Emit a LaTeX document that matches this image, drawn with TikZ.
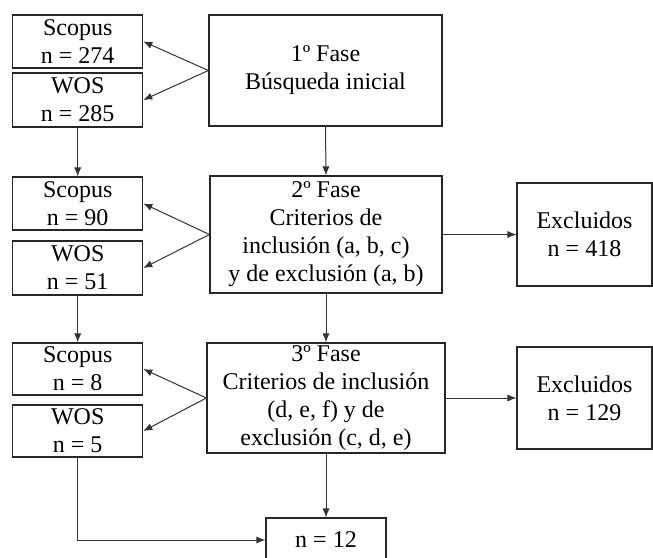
\documentclass[tikz,border=0pt]{standalone}
\usepackage{fontspec}
\setmainfont{Liberation Serif}
\usetikzlibrary{arrows.meta}
\begin{document}
\begin{tikzpicture}[x=0.5pt,y=-0.5pt,
  box/.style={draw=black!85, line width=0.6pt, inner sep=0pt, align=center,
    font=\fontsize{12}{14}\selectfont, text=black},
  arr/.style={draw=black!80, line width=0.5pt, -{Latex[length=4.5pt,width=3.6pt]}}]
\useasboundingbox (0,0) rectangle (653,557);
% row 1
\node[box, minimum width=65pt, minimum height=26.5pt] (s1) at (77.7,41.5) {Scopus\\n = 274};
\node[box, minimum width=65pt, minimum height=27pt] (w1) at (77.7,100) {WOS\\n = 285};
\node[box, minimum width=116.5pt, minimum height=55.5pt] (f1) at (325.5,70.5) {1º Fase\\Búsqueda inicial};
% row 2
\node[box, minimum width=65pt, minimum height=26.5pt] (s2) at (77.7,203.5) {Scopus\\n = 90};
\node[box, minimum width=65pt, minimum height=27pt] (w2) at (77.7,268) {WOS\\n = 51};
\node[box, minimum width=116pt, minimum height=58.5pt] (f2) at (326,234.5) {2º Fase\\Criterios de\\inclusión (a, b, c)\\y de exclusión (a, b)};
\node[box, minimum width=67.5pt, minimum height=51.5pt] (e1) at (584.5,234.5) {Excluidos\\n = 418};
% row 3
\node[box, minimum width=65pt, minimum height=26pt] (s3) at (77.7,369) {Scopus\\n = 8};
\node[box, minimum width=65pt, minimum height=26pt] (w3) at (77.7,431) {WOS\\n = 5};
\node[box, minimum width=119pt, minimum height=55pt] (f3) at (326,398) {3º Fase\\Criterios de inclusión\\(d, e, f) y de\\exclusión (c, d, e)};
\node[box, minimum width=67.5pt, minimum height=51pt] (e2) at (584.5,398) {Excluidos\\n = 129};
% final
\node[box, minimum width=60pt, minimum height=22pt] (n12) at (326,540) {n = 12};
% connectors
\draw[arr] (f1.west) -- (s1.east);
\draw[arr] (f1.west) -- (w1.east);
\draw[arr] (w1.south) -- (s2.north);
\draw[arr] (f1.south) -- (f2.north);
\draw[arr] (f2.west) -- (s2.east);
\draw[arr] (f2.west) -- (w2.east);
\draw[arr] (f2.east) -- (e1.west);
\draw[arr] (w2.south) -- (s3.north);
\draw[arr] (f2.south) -- (f3.north);
\draw[arr] (f3.west) -- (s3.east);
\draw[arr] (f3.west) -- (w3.east);
\draw[arr] (f3.east) -- (e2.west);
\draw[arr] (f3.south) -- (n12.north);
\draw[arr] (w3.south) |- (n12.west);
\end{tikzpicture}
\end{document}
